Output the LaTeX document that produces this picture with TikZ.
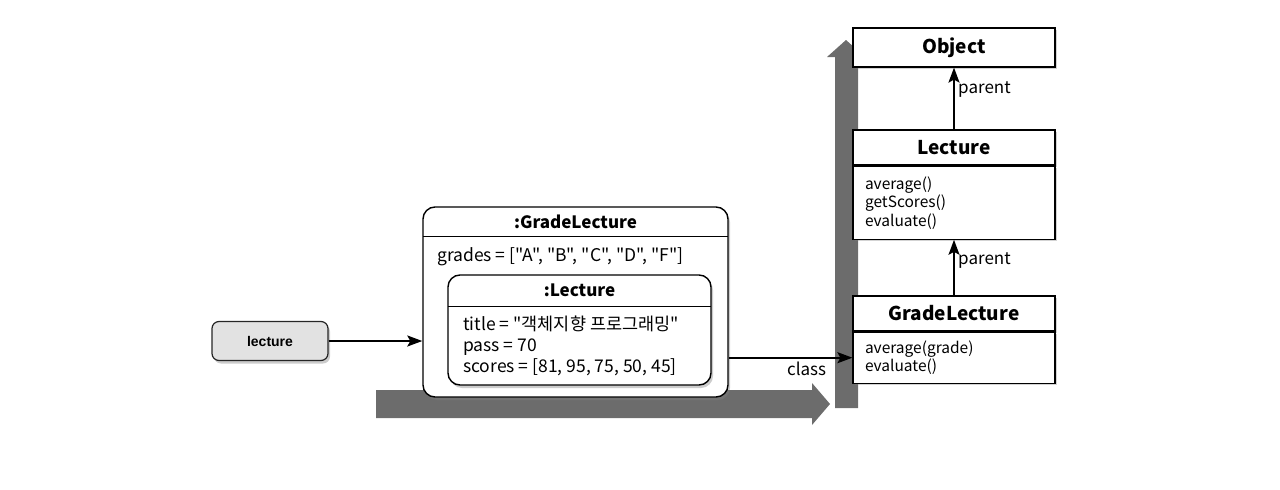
\documentclass[tikz,border=0pt]{standalone}
\usepackage{fontspec}
\setmainfont{Noto Sans CJK KR}[Ligatures=TeXOff]
\newfontfamily\refsans{Liberation Sans}
\usepackage{tikz}
\usetikzlibrary{arrows.meta, positioning, shadows, backgrounds}
\definecolor{refgray}{RGB}{226, 226, 226}
\definecolor{bandgray}{RGB}{108, 108, 108}

\begin{document}
\begin{tikzpicture}[
    x=1pt, y=-1pt,
    every node/.style={font=\fontsize{17}{19.5}\selectfont},
    refbox/.style={
        rectangle,
        draw=black!85,
        line width=1.2pt,
        fill=refgray,
        rounded corners=7pt,
        minimum width=116pt,
        minimum height=39pt,
        font=\refsans\bfseries\fontsize{14}{16}\selectfont,
        drop shadow={shadow xshift=2pt, shadow yshift=-3pt, opacity=0.4}
    },
    objbox/.style={
        rectangle,
        draw=black,
        line width=1.4pt,
        fill=white,
        rounded corners=12pt,
        drop shadow={shadow xshift=2pt, shadow yshift=-3pt, opacity=0.4}
    },
    objtitle/.style={
        rectangle,
        minimum height=30pt,
        inner sep=0pt,
        font=\bfseries\fontsize{17}{19}\selectfont
    },
    fieldtext/.style={
        inner sep=0pt,
        align=left,
        font=\fontsize{17.5}{21}\selectfont
    },
    classtitle/.style={
        rectangle,
        draw=black,
        line width=1.2pt,
        fill=white,
        minimum width=202pt,
        minimum height=35pt,
        inner sep=0pt,
        font=\bfseries\fontsize{19}{21}\selectfont,
        drop shadow={shadow xshift=2pt, shadow yshift=-2pt, opacity=0.35}
    },
    classbody/.style={
        rectangle,
        draw=black,
        line width=1.2pt,
        fill=white,
        text width=178pt,
        inner xsep=12pt,
        inner ysep=0pt,
        align=left,
        font=\fontsize{15.5}{18.5}\selectfont,
        drop shadow={shadow xshift=2pt, shadow yshift=-2pt, opacity=0.35}
    },
    arrow/.style={
        line width=1.8pt,
        -{Stealth[length=15pt, width=11pt, inset=3pt]},
        draw=black
    },
    divider/.style={line width=1pt}
]
\useasboundingbox (0,0) rectangle (1280,490);

% reference variable
\node (lec_ref) [refbox] at (270,341) {lecture};

% instance of GradeLecture
\node (o_grade) [objbox, minimum width=305pt, minimum height=190pt] at (575.5,302) {};
\node (o_grade_t) [objtitle, minimum width=305pt, below=0pt of o_grade.north] {:GradeLecture};
\node (o_grade_f) [fieldtext, anchor=west] at (437,257) {grades = ["A", "B", "C", "D", "F"]};
\draw [divider] (o_grade_t.south west) -- (o_grade_t.south east);

\node (o_lec) [objbox, minimum width=263pt, minimum height=110pt] at (579.5,330) {};
\node (o_lec_t) [objtitle, minimum width=263pt, minimum height=32pt, below=0pt of o_lec.north] {:Lecture};
\node (o_lec_f) [fieldtext, anchor=west] at (463,346) {title = "객체지향 프로그래밍"\\ pass = 70\\ scores = [81, 95, 75, 50, 45]};
\draw [divider] (o_lec_t.south west) -- (o_lec_t.south east);

% class chain
\node (c_object) [classtitle, minimum height=39pt] at (954,47.5) {Object};
\node (c_lecture) [classtitle] at (954,147.5) {Lecture};
\node (c_lecture_m) [classbody, minimum height=73pt, below=0pt of c_lecture] {average()\\ getScores()\\ evaluate()};
\node (c_grade) [classtitle] at (954,313.5) {GradeLecture};
\node (c_grade_m) [classbody, minimum height=51pt, below=0pt of c_grade] {average(grade)\\ evaluate()};

\draw [arrow] (lec_ref.east) -- (lec_ref.east -| o_grade.west);
\draw [arrow] (o_grade.east |- c_grade_m.west) -- (c_grade_m.west) node [pos=0.63, below] {class};
\draw [arrow] (c_grade.north) -- (c_lecture_m.south) node [pos=0.62, right] {parent};
\draw [arrow] (c_lecture.north) -- (c_object.south) node [pos=0.65, right] {parent};

% lookup direction bands
\begin{scope}[on background layer]
    \fill [bandgray] (376,390) -- (812,390) -- (812,383) -- (830,404) -- (812,425) -- (812,418) -- (376,418) -- cycle;
    \fill [bandgray] (835,408) -- (835,57) -- (827,57) -- (846,40) -- (865,57) -- (858,57) -- (858,408) -- cycle;
\end{scope}

\end{tikzpicture}
\end{document}
